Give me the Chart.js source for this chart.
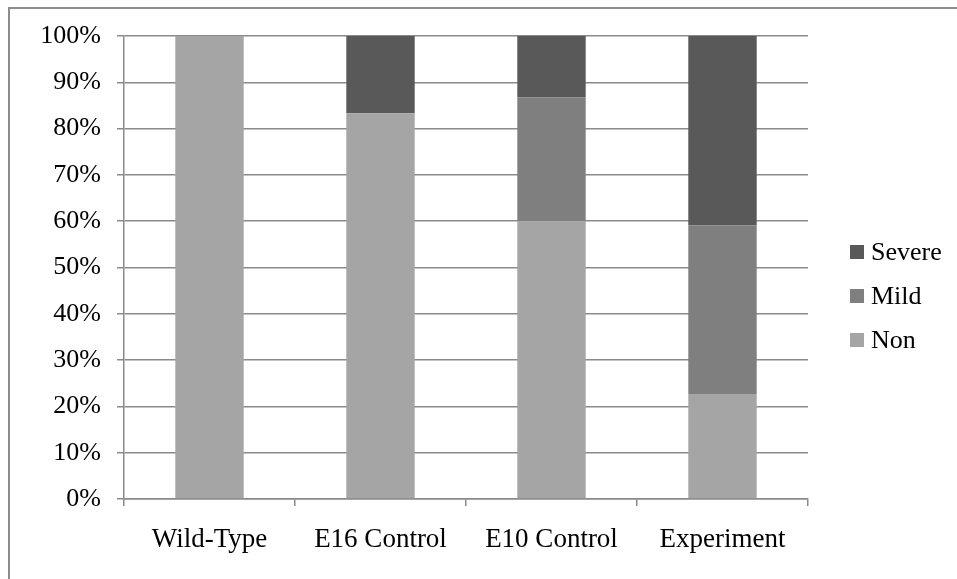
<!DOCTYPE html>
<html>
<head>
<meta charset="utf-8">
<script src="https://cdn.jsdelivr.net/npm/chart.js@4.4.0/dist/chart.umd.min.js"></script>
<style>
    html, body { margin: 0; padding: 0; background: #fff; overflow: hidden; }
    #frame {
        position: absolute; left: 8px; top: 7px;
        width: 980px; height: 600px;
        border: 2px solid #8c8c8c;
    }
    #wrap { position: absolute; left: 0; top: 0; width: 957px; height: 579px; }
</style>
</head>
<body>
<div id="frame"></div>
<div id="wrap"><canvas id="chart" width="957" height="579"></canvas></div>
<script>
// Categories and series (percent of each group)
const categories = ['Wild-Type', 'E16 Control', 'E10 Control', 'Experiment'];
const nonValues = [100, 83.3, 60, 22.7];
const mildValues = [0, 0, 26.7, 36.4];
const severeValues = [0, 16.7, 13.3, 40.9];
const yTicks = [0, 10, 20, 30, 40, 50, 60, 70, 80, 90, 100];

const gridColor = '#8a8a8a';
const fontFamily = "'Liberation Serif', 'Times New Roman', serif";

// Legend drawn at the right, top item first (Severe, Mild, Non)
const rightLegend = {
    id: 'rightLegend',
    afterDraw(chart) {
        const ctx = chart.ctx;
        const area = chart.chartArea;
        const items = chart.data.datasets.slice().reverse();
        ctx.save();
        ctx.font = '26px ' + fontFamily;
        ctx.textBaseline = 'middle';
        ctx.textAlign = 'left';
        items.forEach((ds, i) => {
            const x = area.right + 42;
            const y = area.top + 216 + i * 44;
            ctx.fillStyle = ds.backgroundColor;
            ctx.fillRect(x, y - 7, 14, 14);
            ctx.fillStyle = '#000';
            ctx.fillText(ds.label, x + 21, y + 1);
        });
        ctx.restore();
    }
};

const ctx = document.getElementById('chart').getContext('2d');
const chart = new Chart(ctx, {
    type: 'bar',
    data: {
        labels: categories,
        datasets: [
            { label: 'Non', data: nonValues, backgroundColor: '#a5a5a5' },
            { label: 'Mild', data: mildValues, backgroundColor: '#7f7f7f' },
            { label: 'Severe', data: severeValues, backgroundColor: '#595959' }
        ]
    },
    plugins: [rightLegend],
    options: {
        responsive: false,
        animation: false,
        events: [],
        barPercentage: 0.4,
        categoryPercentage: 1,
        layout: {
            padding: { left: 0, top: 36, right: 149, bottom: 0 }
        },
        scales: {
            x: {
                stacked: true,
                afterFit: function(scale) { scale.height = 80; },
                grid: {
                    display: true,
                    offset: true,
                    drawOnChartArea: false,
                    drawTicks: true,
                    tickLength: 7,
                    color: gridColor,
                    lineWidth: 1.5
                },
                border: { display: true, color: gridColor, width: 1.5 },
                ticks: {
                    color: '#000',
                    padding: 18,
                    font: { family: fontFamily, size: 27 }
                }
            },
            y: {
                stacked: true,
                min: 0,
                max: 100,
                afterFit: function(scale) { scale.width = 124; },
                afterBuildTicks: function(scale) {
                    scale.ticks = yTicks.map(v => ({ value: v }));
                },
                grid: {
                    color: gridColor,
                    lineWidth: 1.5,
                    tickLength: 7
                },
                border: { display: true, color: gridColor, width: 1.5 },
                ticks: {
                    color: '#000',
                    padding: 16,
                    font: { family: fontFamily, size: 26 },
                    callback: function(value) { return value + '%'; }
                }
            }
        },
        plugins: {
            legend: { display: false },
            tooltip: { enabled: false }
        }
    }
});
</script>
</body>
</html>
